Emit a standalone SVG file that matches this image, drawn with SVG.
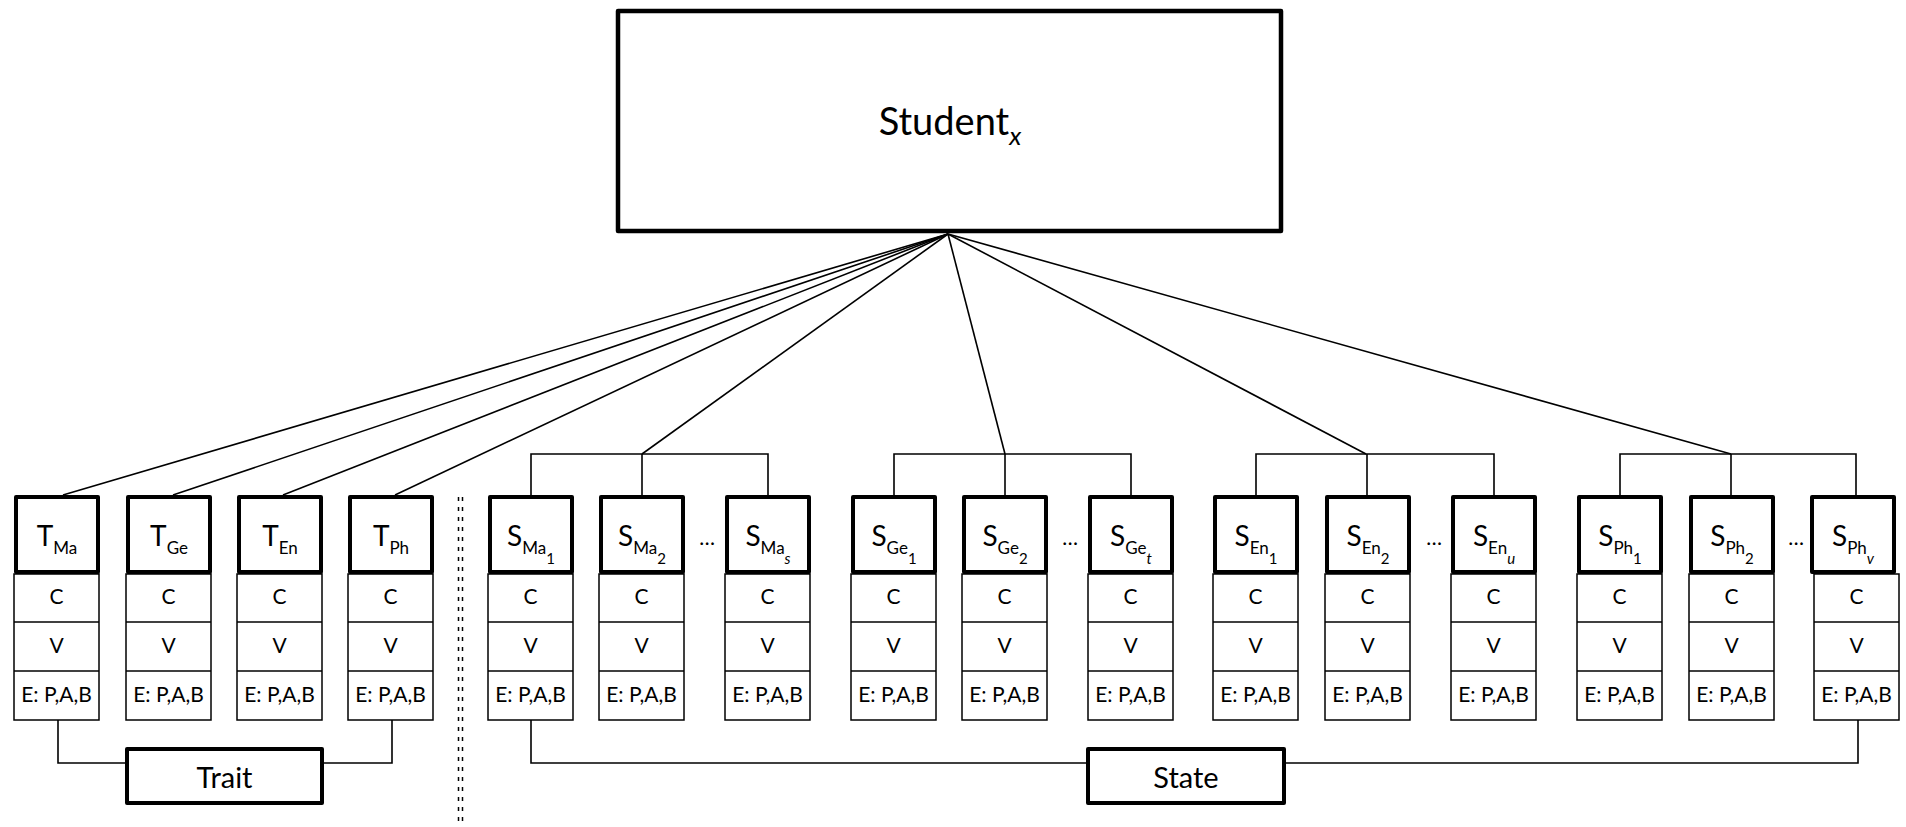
<svg xmlns="http://www.w3.org/2000/svg" width="1906" height="827" viewBox="0 0 1906 827">
<style>
text{font-family:Lato,"Open Sans","Liberation Sans",sans-serif;fill:#000;text-anchor:middle}
.thick{fill:#fff;stroke:#000;stroke-width:4;stroke-linejoin:round}
.cell{fill:#fff;stroke:#000;stroke-width:1.5}
.ln{fill:none;stroke:#000;stroke-width:1.6}
.lab{font-size:28px}
.sub{font-size:17px}
.ss{font-size:15px}
.ct{font-size:21px}
.it{font-style:italic}
.big{font-size:29px}
</style>
<defs>
<g id="cells">
<rect class="cell" x="0" y="574" width="85" height="146"/>
<line class="cell" x1="0" y1="622" x2="85" y2="622"/>
<line class="cell" x1="0" y1="671" x2="85" y2="671"/>
<text class="ct" x="42.5" y="604">C</text>
<text class="ct" x="42.5" y="653">V</text>
<text class="ct" x="42.5" y="702">E: P,A,B</text>
</g>
<rect id="hdr" class="thick" x="2" y="497" width="82" height="75"/>
</defs>

<g id="connectors">
<polyline class="ln" points="948,234 63,495"/>
<polyline class="ln" points="948,234 173,495"/>
<polyline class="ln" points="948,234 283,495"/>
<polyline class="ln" points="948,234 395,495"/>
<polyline class="ln" points="948,234 642,454"/>
<polyline class="ln" points="948,234 1005,454"/>
<polyline class="ln" points="948,234 1366,454"/>
<polyline class="ln" points="948,234 1731,454"/>
<polyline class="ln" points="531,495 531,454 768,454 768,495"/>
<line class="ln" x1="642" y1="454" x2="642" y2="495"/>
<polyline class="ln" points="894,495 894,454 1131,454 1131,495"/>
<line class="ln" x1="1005" y1="454" x2="1005" y2="495"/>
<polyline class="ln" points="1256,495 1256,454 1494,454 1494,495"/>
<line class="ln" x1="1367" y1="454" x2="1367" y2="495"/>
<polyline class="ln" points="1620,495 1620,454 1856,454 1856,495"/>
<line class="ln" x1="1731" y1="454" x2="1731" y2="495"/>
<polyline class="ln" points="58,720 58,763 125,763"/>
<polyline class="ln" points="324,763 392,763 392,720"/>
<polyline class="ln" points="531,720 531,763 1086,763"/>
<polyline class="ln" points="1286,763 1858,763 1858,720"/>
</g>

<g id="divider">
<line x1="458.5" y1="497" x2="458.5" y2="827" stroke="#000" stroke-width="1.5" stroke-dasharray="4 6"/>
<line x1="462.5" y1="497" x2="462.5" y2="827" stroke="#000" stroke-width="1.5" stroke-dasharray="4 6"/>
</g>

<g id="student">
<rect x="618" y="11" width="663" height="220" fill="#fff" stroke="#000" stroke-width="4.5" stroke-linejoin="round"/>
<text x="950" y="135" style="font-size:38px">Student<tspan class="it" dy="10" style="font-size:26px">x</tspan></text>
</g>

<g id="T_Ma" transform="translate(14,0)"><use href="#hdr"/><use href="#cells"/><text class="lab" x="43" y="546">T<tspan class="sub" dy="8">Ma</tspan></text></g>
<g id="T_Ge" transform="translate(126,0)"><use href="#hdr"/><use href="#cells"/><text class="lab" x="43" y="546">T<tspan class="sub" dy="8">Ge</tspan></text></g>
<g id="T_En" transform="translate(237,0)"><use href="#hdr"/><use href="#cells"/><text class="lab" x="43" y="546">T<tspan class="sub" dy="8">En</tspan></text></g>
<g id="T_Ph" transform="translate(348,0)"><use href="#hdr"/><use href="#cells"/><text class="lab" x="43" y="546">T<tspan class="sub" dy="8">Ph</tspan></text></g>

<g id="S_Ma1" transform="translate(488,0)"><use href="#hdr"/><use href="#cells"/><text class="lab" x="43" y="546">S<tspan class="sub" dy="8">Ma</tspan><tspan class="ss" dy="10">1</tspan></text></g>
<g id="S_Ma2" transform="translate(599,0)"><use href="#hdr"/><use href="#cells"/><text class="lab" x="43" y="546">S<tspan class="sub" dy="8">Ma</tspan><tspan class="ss" dy="10">2</tspan></text></g>
<g id="S_Mas" transform="translate(725,0)"><use href="#hdr"/><use href="#cells"/><text class="lab" x="43" y="546">S<tspan class="sub" dy="8">Ma</tspan><tspan class="ss it" dy="10">s</tspan></text></g>
<g id="S_Ge1" transform="translate(851,0)"><use href="#hdr"/><use href="#cells"/><text class="lab" x="43" y="546">S<tspan class="sub" dy="8">Ge</tspan><tspan class="ss" dy="10">1</tspan></text></g>
<g id="S_Ge2" transform="translate(962,0)"><use href="#hdr"/><use href="#cells"/><text class="lab" x="43" y="546">S<tspan class="sub" dy="8">Ge</tspan><tspan class="ss" dy="10">2</tspan></text></g>
<g id="S_Get" transform="translate(1088,0)"><use href="#hdr"/><use href="#cells"/><text class="lab" x="43" y="546">S<tspan class="sub" dy="8">Ge</tspan><tspan class="ss it" dy="10">t</tspan></text></g>
<g id="S_En1" transform="translate(1213,0)"><use href="#hdr"/><use href="#cells"/><text class="lab" x="43" y="546">S<tspan class="sub" dy="8">En</tspan><tspan class="ss" dy="10">1</tspan></text></g>
<g id="S_En2" transform="translate(1325,0)"><use href="#hdr"/><use href="#cells"/><text class="lab" x="43" y="546">S<tspan class="sub" dy="8">En</tspan><tspan class="ss" dy="10">2</tspan></text></g>
<g id="S_Enu" transform="translate(1451,0)"><use href="#hdr"/><use href="#cells"/><text class="lab" x="43" y="546">S<tspan class="sub" dy="8">En</tspan><tspan class="ss it" dy="10">u</tspan></text></g>
<g id="S_Ph1" transform="translate(1577,0)"><use href="#hdr"/><use href="#cells"/><text class="lab" x="43" y="546">S<tspan class="sub" dy="8">Ph</tspan><tspan class="ss" dy="10">1</tspan></text></g>
<g id="S_Ph2" transform="translate(1689,0)"><use href="#hdr"/><use href="#cells"/><text class="lab" x="43" y="546">S<tspan class="sub" dy="8">Ph</tspan><tspan class="ss" dy="10">2</tspan></text></g>
<g id="S_Phv" transform="translate(1810,0)"><use href="#cells" transform="translate(4,0)"/><use href="#hdr"/><text class="lab" x="43" y="546">S<tspan class="sub" dy="8">Ph</tspan><tspan class="ss it" dy="10">v</tspan></text></g>

<g id="ellipses">
<text class="ct" x="707" y="545">…</text>
<text class="ct" x="1070" y="545">…</text>
<text class="ct" x="1434" y="545">…</text>
<text class="ct" x="1796" y="545">…</text>
</g>

<g id="trait">
<rect class="thick" x="127" y="749" width="195" height="54"/>
<text class="big" x="224.5" y="788">Trait</text>
</g>
<g id="state">
<rect class="thick" x="1088" y="749" width="196" height="54"/>
<text class="big" x="1186" y="788">State</text>
</g>
</svg>
